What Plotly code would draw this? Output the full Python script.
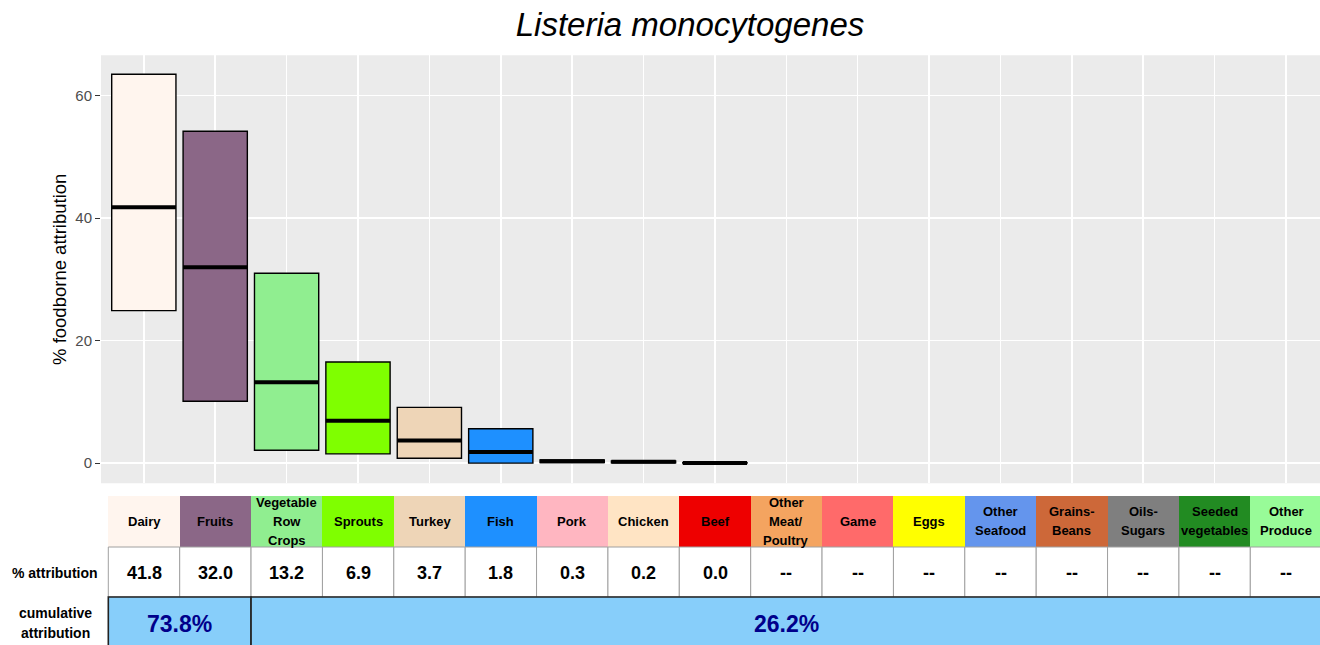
import plotly.graph_objects as go

# ---------------- data ----------------
categories = ["Dairy", "Fruits", "Vegetable Row Crops", "Sprouts", "Turkey", "Fish",
              "Pork", "Chicken", "Beef", "Other Meat/ Poultry", "Game", "Eggs",
              "Other Seafood", "Grains-Beans", "Oils-Sugars", "Seeded vegetables",
              "Other Produce"]
header_lines = [["Dairy"], ["Fruits"], ["Vegetable", "Row", "Crops"], ["Sprouts"], ["Turkey"],
                ["Fish"], ["Pork"], ["Chicken"], ["Beef"], ["Other", "Meat/", "Poultry"],
                ["Game"], ["Eggs"], ["Other", "Seafood"], ["Grains-", "Beans"],
                ["Oils-", "Sugars"], ["Seeded", "vegetables"], ["Other", "Produce"]]
colors = ["#FFF5EE", "#8B6787", "#90EE90", "#7FFF00", "#EED5B7", "#1E90FF",
          "#FFB6C1", "#FFE4C4", "#EE0000", "#F4A460", "#FF6A6A", "#FFFF00",
          "#6495ED", "#CD6839", "#7F7F7F", "#228B22", "#98FB98"]
# estimates with uncertainty (only first 9 categories have values)
median = [41.8, 32.0, 13.2, 6.9, 3.7, 1.8, 0.3, 0.2, 0.0]
lower = [24.9, 10.1, 2.1, 1.5, 0.8, 0.0, 0.1, 0.05, 0.0]
upper = [63.5, 54.2, 31.0, 16.5, 9.1, 5.6, 0.5, 0.35, 0.05]
attribution_text = ["41.8", "32.0", "13.2", "6.9", "3.7", "1.8", "0.3", "0.2", "0.0",
                    "--", "--", "--", "--", "--", "--", "--", "--"]
cum_labels = ["73.8%", "26.2%"]
cum_first = [0, 2]     # first category index of group
cum_last = [1, 16]     # last category index of group
y_ticks = [0, 20, 40, 60]

# ---------------- figure ----------------
W, H = 1320, 645
idx = list(range(len(categories)))
n_med = len(median)
step = 71.375          # px per category
x0px = 144             # px of first category
x_right = (W - x0px) / step
font = "Arial, Liberation Sans, sans-serif"

fig = go.Figure()

# boxes
fig.add_trace(go.Bar(
    x=idx[:n_med], y=[u - l for u, l in zip(upper, lower)], base=lower,
    width=0.9, marker=dict(color=colors[:n_med], line=dict(color="black", width=1.4)),
    xaxis="x", yaxis="y", hoverinfo="skip", showlegend=False))

# median lines
mx, my = [], []
for i, m in zip(idx[:n_med], median):
    mx += [i - 0.45, i + 0.45, None]
    my += [m, m, None]
fig.add_trace(go.Scatter(x=mx, y=my, mode="lines", line=dict(color="black", width=4),
                         xaxis="x", yaxis="y", hoverinfo="skip", showlegend=False))

# table: header cells
fig.add_trace(go.Bar(x=idx, y=[51] * len(idx), base=98, width=1.0,
                     marker=dict(color=colors, line=dict(width=0)),
                     xaxis="x2", yaxis="y2", hoverinfo="skip", showlegend=False))
# table: value cells
fig.add_trace(go.Bar(x=idx, y=[50] * len(idx), base=48, width=1.0,
                     marker=dict(color="white", line=dict(color="#A0A0A0", width=1)),
                     xaxis="x2", yaxis="y2", hoverinfo="skip", showlegend=False))
# table: cumulative cells
cum_center = [(a + b) / 2 for a, b in zip(cum_first, cum_last)]
cum_width = [b - a + 1 for a, b in zip(cum_first, cum_last)]
fig.add_trace(go.Bar(x=cum_center, y=[52] * len(cum_center), base=-4, width=cum_width,
                     marker=dict(color="#87CEFA", line=dict(color="#222222", width=1.6)),
                     xaxis="x2", yaxis="y2", hoverinfo="skip", showlegend=False))

annotations = []


def add_lines(x, yc, lines, size, color="black", spacing=19):
    n = len(lines)
    for j, ln in enumerate(lines):
        annotations.append(dict(x=x, y=yc + (n - 1) / 2 * spacing - j * spacing,
                                xref="x2", yref="y2", text="<b>%s</b>" % ln,
                                showarrow=False, font=dict(family=font, size=size, color=color)))


for i, lines in zip(idx, header_lines):
    add_lines(i, 124, lines, 13)
for i, t in zip(idx, attribution_text):
    add_lines(i, 72, [t], 18)
for c, t in zip(cum_center, cum_labels):
    add_lines(c, 21, [t], 23, color="#00008B")
lab_x = (55 - x0px) / step
add_lines(lab_x, 72, ["% attribution"], 14)
add_lines(lab_x, 22, ["cumulative", "attribution"], 14, spacing=20)

panel_top, panel_bot = 55.3, 483.3
fig.update_layout(
    width=W, height=H, margin=dict(l=0, r=0, t=0, b=0),
    paper_bgcolor="white", plot_bgcolor="white",
    bargap=0, barmode="overlay",
    title=dict(text="<i>Listeria monocytogenes</i>", x=690 / W, xanchor="center",
               y=1 - 24 / H, yanchor="middle", yref="container",
               font=dict(family=font, size=33, color="black")),
    xaxis=dict(domain=[101 / W, 1], range=[-0.6, x_right], showticklabels=False,
               tickvals=idx, showgrid=True, gridcolor="white", gridwidth=1.5,
               zeroline=False, ticks="", showline=False, anchor="y", fixedrange=True),
    yaxis=dict(domain=[(H - panel_bot) / H, (H - panel_top) / H], range=[-3.3, 66.6],
               tickvals=y_ticks, showgrid=True, gridcolor="white", gridwidth=1.5,
               zeroline=False, ticks="outside", ticklen=5, tickcolor="#333333", tickwidth=1,
               tickfont=dict(family=font, size=15, color="#4D4D4D"),
               title=dict(text="% foodborne attribution", standoff=3,
                          font=dict(family=font, size=18.5, color="black")),
               automargin=False, anchor="x", fixedrange=True),
    xaxis2=dict(domain=[0, 1], range=[-x0px / step, x_right], visible=False,
                anchor="y2", fixedrange=True),
    yaxis2=dict(domain=[0, 150 / H], range=[0, 150], visible=False,
                anchor="x2", fixedrange=True),
    shapes=[dict(type="rect", xref="x domain", yref="y domain", x0=0, x1=1, y0=0, y1=1,
                 fillcolor="#EBEBEB", line=dict(width=0), layer="below")],
    annotations=annotations,
)

fig.write_html("out.html", config={"displayModeBar": False, "staticPlot": True},
               post_script="document.body.style.margin='0';document.body.style.overflow='hidden';")
